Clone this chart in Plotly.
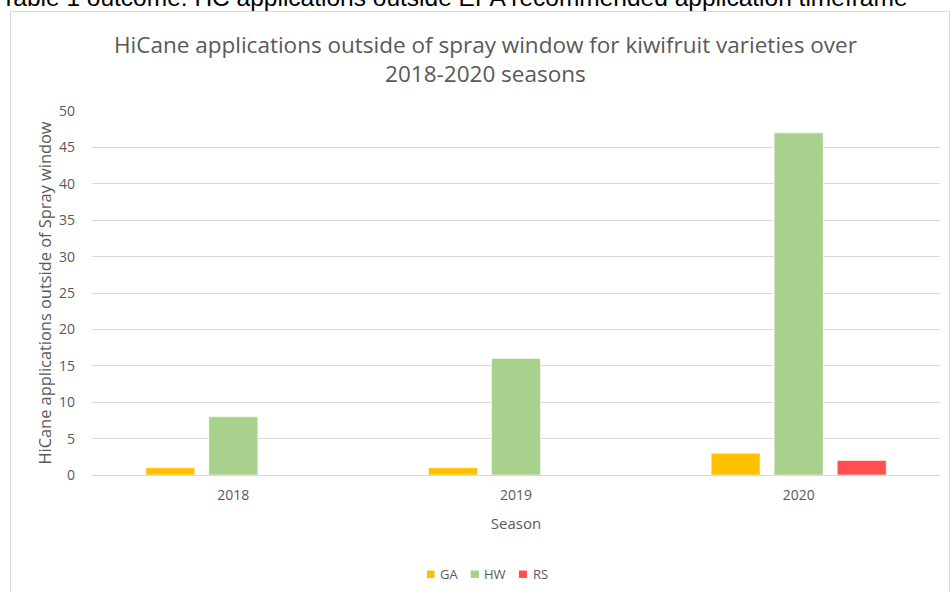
import plotly.graph_objects as go

seasons = ["2018", "2019", "2020"]
ga = [1, 1, 3]
hw = [8, 16, 47]
rs = [0, 0, 2]
series_names = ["GA", "HW", "RS"]
series_colors = ["#FFC000", "#A9D18E", "#FF5050"]
y_ticks = [0, 5, 10, 15, 20, 25, 30, 35, 40, 45, 50]

W, H = 950, 592
L, R, T, B = 92, 940, 111, 475


def px(x):
    return (x - L) / (R - L)


def py(y):
    return (B - y) / (B - T)


fig = go.Figure()
for name, vals, col in zip(series_names, [ga, hw, rs], series_colors):
    fig.add_trace(go.Bar(
        x=seasons, y=vals, name=name, showlegend=False,
        marker=dict(color=col, line=dict(color="rgba(255,255,255,0.6)", width=1)),
    ))

font_family = "'Open Sans', Lato, sans-serif"
gray = "#595959"

fig.update_layout(
    width=W, height=H,
    margin=dict(l=L, r=W - R, t=T, b=H - B, autoexpand=False),
    paper_bgcolor="white", plot_bgcolor="white",
    barmode="group", bargap=0.331, bargroupgap=0.222,
    font=dict(family=font_family, color=gray, size=14),
    xaxis=dict(type="category", showgrid=False, showline=False, ticks="", automargin=False,
               tickfont=dict(size=14, color=gray), ticklabelstandoff=10,
               title=dict(text="Season", font=dict(size=15, color=gray), standoff=15)),
    yaxis=dict(range=[0, 50], tickvals=y_ticks, showgrid=True, gridcolor="#D9D9D9", gridwidth=1,
               zeroline=True, zerolinecolor="#D9D9D9", zerolinewidth=1, showline=False, automargin=False,
               ticks="", ticklabelstandoff=16, tickfont=dict(size=14, color=gray),
               title=dict(text="HiCane applications outside of Spray window",
                          font=dict(size=16.4, color=gray), standoff=3)),
)

# chart frame
fig.add_shape(type="rect", xref="paper", yref="paper",
              x0=px(10.5), x1=px(949.5), y0=py(600), y1=py(11.5),
              line=dict(color="#D9D9D9", width=1), fillcolor="rgba(0,0,0,0)", layer="below")

# chart title
fig.add_annotation(xref="paper", yref="paper", x=px(485), y=py(59), xanchor="center", yanchor="middle",
                   text="HiCane applications outside of spray window for kiwifruit varieties over<br>2018-2020 seasons",
                   showarrow=False, font=dict(size=22.5, color=gray, family=font_family))

# legend (Excel-style compact legend)
legend_sq = [(427, 434.5), (470.7, 479), (519, 527)]
legend_txt = [440, 484, 532.5]
for name, col, (x0, x1), tx in zip(series_names, series_colors, legend_sq, legend_txt):
    fig.add_shape(type="rect", xref="paper", yref="paper", x0=px(x0), x1=px(x1), y0=py(578), y1=py(570.5),
                  line=dict(width=0), fillcolor=col)
    fig.add_annotation(xref="paper", yref="paper", x=px(tx - 2), y=py(573.5), xanchor="left", yanchor="middle",
                       text=name, showarrow=False, font=dict(size=13, color=gray, family=font_family))

# cut-off document caption above the chart
fig.add_annotation(xref="paper", yref="paper", x=px(-1), y=py(-2.5), xanchor="left", yanchor="middle",
                   text="Table 1 outcome: HC applications outside EPA recommended application timeframe",
                   showarrow=False, font=dict(size=24.5, color="#000000", family="'Liberation Sans', Arial, sans-serif"))

fig.write_html("out.html")
